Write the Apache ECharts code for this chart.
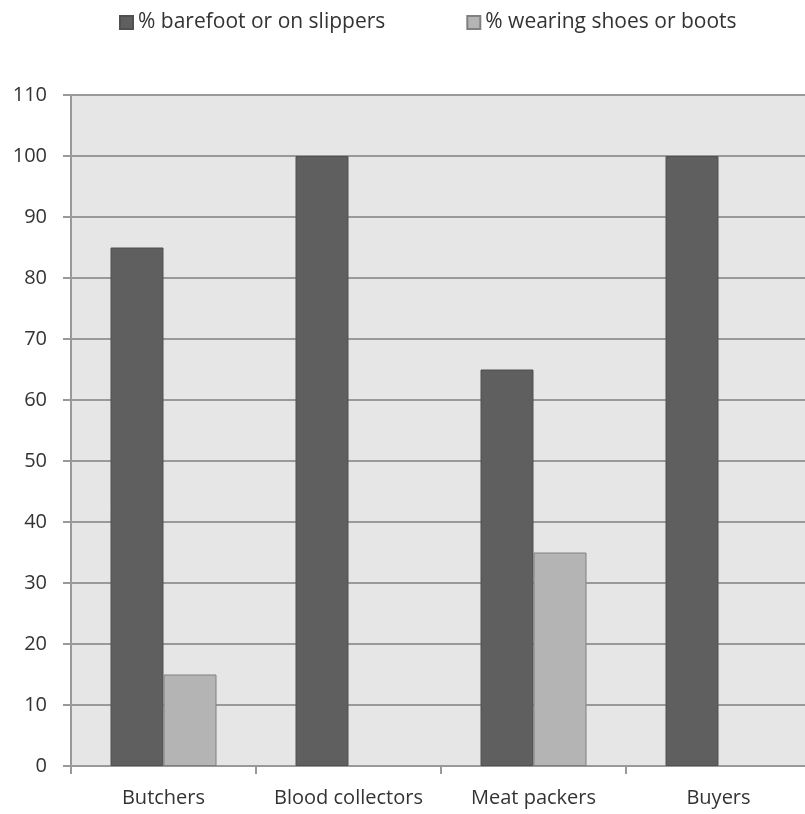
<!DOCTYPE html>
<html><head><meta charset="utf-8">
<script src="https://cdn.jsdelivr.net/npm/echarts@6/dist/echarts.min.js"></script>
<style>html,body{margin:0;padding:0;background:#fff}#c{width:805px;height:814px}</style>
</head><body><div id="c"></div>
<script>
const categories = ['Butchers', 'Blood collectors', 'Meat packers', 'Buyers'];
const barefoot = [85, 100, 65, 100];
const shoes = [15, 0, 35, 0];
const seriesNames = ['% barefoot or on slippers', '% wearing shoes or boots'];

const chart = echarts.init(document.getElementById('c'), null, {renderer: 'canvas'});
const font = '"Open Sans", "DejaVu Sans", sans-serif';
const hideZero = arr => arr.map(v => (v === 0 ? null : v));
chart.setOption({
  animation: false,
  legend: {
    top: 7, left: 114, itemWidth: 13, itemHeight: 13, itemGap: 81, icon: 'rect',
    textStyle: {fontFamily: font, fontSize: 21, color: '#333'},
    data: seriesNames
  },
  grid: {left: 71, width: 740, top: 95, bottom: 48, show: true, backgroundColor: '#e6e6e6', borderWidth: 0,
         outerBoundsMode: 'none', containLabel: false},
  xAxis: {
    type: 'category', data: categories,
    axisLine: {lineStyle: {color: '#999', width: 2}},
    axisTick: {show: true, interval: 0, length: 8, lineStyle: {color: '#999', width: 2}},
    axisLabel: {interval: 0, fontFamily: font, fontSize: 20, color: '#333', margin: 22}
  },
  yAxis: {
    type: 'value', min: 0, max: 110, interval: 10,
    axisLine: {show: true, lineStyle: {color: '#999', width: 2}},
    axisTick: {show: true, length: 8, lineStyle: {color: '#999', width: 2}},
    axisLabel: {fontFamily: font, fontSize: 20, color: '#333', margin: 24},
    splitLine: {lineStyle: {color: '#999', width: 2}}
  },
  series: [
    {name: seriesNames[0], type: 'bar', data: hideZero(barefoot), barWidth: 53, barGap: '0%',
     itemStyle: {color: '#5f5f5f', borderColor: '#505050', borderWidth: 1}},
    {name: seriesNames[1], type: 'bar', data: hideZero(shoes), barWidth: 53,
     itemStyle: {color: '#b4b4b4', borderColor: '#808080', borderWidth: 1}}
  ]
});
</script></body></html>
